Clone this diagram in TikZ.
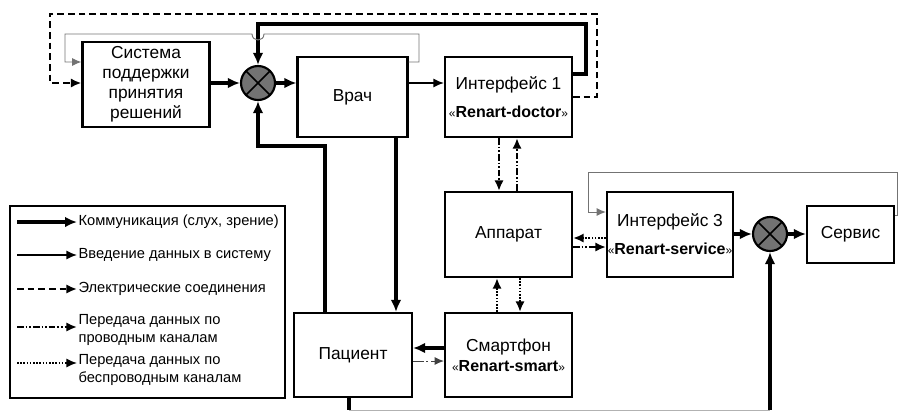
\documentclass[tikz,border=0pt]{standalone}
\usepackage{fontspec}
\setmainfont{Liberation Sans}
\usetikzlibrary{arrows.meta}
\newcommand{\renart}[1]{{\fontsize{9}{10}\selectfont«}{\fontsize{12}{14}\selectfont\bfseries #1}{\fontsize{9}{10}\selectfont»}}

\tikzset{
  blk/.style={draw, line width=1.6pt, align=center, inner sep=0pt, font=\fontsize{13}{15}\selectfont},
  summ/.style={circle, draw, line width=1.6pt, fill=black!55, minimum size=25.5pt, inner sep=0pt,
    path picture={\draw[line width=1.3pt] (path picture bounding box.north west) -- (path picture bounding box.south east)
      (path picture bounding box.south west) -- (path picture bounding box.north east);}},
  comm/.style={line width=2.6pt, -{Latex[length=9pt,width=8pt]}},
  datain/.style={line width=1.3pt, -{Latex[length=8pt,width=7pt]}},
  elec/.style={line width=1.6pt, dash pattern=on 5pt off 3pt, -{Latex[length=8pt,width=7pt]}},
  wired/.style={line width=2pt, dash pattern=on 5pt off 1.5pt on 1.2pt off 1.5pt on 1.2pt off 1.5pt, -{Latex[length=8pt,width=7pt]}},
  wless/.style={line width=2pt, dash pattern=on 1.2pt off 1.2pt, -{Latex[length=8pt,width=7pt]}},
  fbline/.style={line width=0.7pt, black!55, -{Latex[length=7pt,width=6pt]}},
  fbdash/.style={fbline, black!75, dash pattern=on 8pt off 2pt on 1.5pt off 2pt},
  lgtext/.style={anchor=west, inner sep=1pt, align=left, font=\fontsize{11}{13.5}\selectfont},
}

\begin{document}
\begin{tikzpicture}[x=0.75pt, y=-0.75pt]
  \useasboundingbox (0,0) rectangle (898,412);

  % Blocks
  \node[blk, minimum width=95.25pt, minimum height=63.75pt] (sppr) at (146,84.5) {Система\\поддержки\\принятия\\решений};
  \node[summ] (sum1) at (258,83) {};
  \node[blk, minimum width=82.5pt, minimum height=60pt] (vrach) at (352.5,97) {Врач};
  \node[blk, minimum width=95.25pt, minimum height=60pt] (int1) at (508.5,97) {Интерфейс 1\\[6pt]\renart{Renart-doctor}};
  \node[blk, minimum width=95.25pt, minimum height=63.75pt] (app) at (508.5,234.5) {Аппарат};
  \node[blk, minimum width=95.25pt, minimum height=63pt] (smart) at (508.5,355) {Смартфон\\\renart{Renart-smart}};
  \node[blk, minimum width=88.5pt, minimum height=63pt] (pac) at (353,355) {Пациент};
  \node[blk, minimum width=94.5pt, minimum height=63.75pt] (int3) at (670,234.5) {Интерфейс 3\\[6pt]\renart{Renart-service}};
  \node[summ] (sum2) at (770,234) {};
  \node[blk, minimum width=65.25pt, minimum height=42.75pt] (serv) at (850.5,234.5) {Сервис};

  % Main loop
  \draw[comm] (sppr.east |- sum1) -- (sum1.west);
  \draw[comm] (sum1.east) -- (vrach.west |- sum1);
  \draw[datain] (vrach.east |- sum1) -- (int1.west |- sum1);
  \draw[comm] (int1.east |- 0,74) -| (586,24) -| (sum1.north);
  \draw[comm] (pac.north -| 325,0) -- (325,146) -| (sum1.south);
  \draw[comm] (vrach.south -| 396,0) -- (pac.north -| 396,0);
  \draw[elec] (int1.east) -| (597,14) -| (50,83) -- (sppr.west |- 0,83);
  \draw[fbline] (vrach.east |- 0,62) -- (419,62) -- (419,34) -- (264,34)
    .. controls (264,42) and (252,42) .. (252,34) -- (65,34) -- (65,62) -- (sppr.west |- 0,62);

  % Data channels
  \draw[wired] (int1.south -| 499,0) -- (app.north -| 499,0);
  \draw[wired] (app.north -| 517,0) -- (int1.south -| 517,0);
  \draw[wless] (smart.north -| 497,0) -- (app.south -| 497,0);
  \draw[wless] (app.south -| 520,0) -- (smart.north -| 520,0);
  \draw[comm] (smart.west |- 0,348) -- (pac.east |- 0,348);
  \draw[fbdash] (pac.east |- 0,361) -- (smart.west |- 0,361);
  \draw[wless] (int3.west |- 0,238) -- (app.east |- 0,238);
  \draw[wired] (app.east |- 0,247) -- (int3.west |- 0,247);

  % Service
  \draw[comm] (int3.east |- sum2) -- (sum2.west);
  \draw[comm] (sum2.east) -- (serv.west |- sum2);
  \coordinate (btm) at (349,410);
  \draw[line width=2.6pt] (pac.south -| btm) -- (btm);
  \draw[line width=0.7pt, black!30] (btm) -- (btm -| sum2);
  \draw[comm] (btm -| sum2) -- (sum2.south);
  \draw[fbline] (serv.east |- 0,215) -- (897,215) -- (897,172) -- (588,172) -- (588,212) -- (int3.west |- 0,212);

  % Legend
  \draw[line width=1.4pt] (10,206) rectangle (285,398);
  \node[lgtext] (lg1) at (77,222) {Коммуникация (слух, зрение)};
  \node[lgtext] (lg2) at (77,255) {Введение данных в систему};
  \node[lgtext] (lg3) at (77,289) {Электрические соединения};
  \node[lgtext] (lg4) at (77,330) {Передача данных по\\проводным каналам};
  \node[lgtext] (lg5) at (77,370) {Передача данных по\\беспроводным каналам};
  \draw[comm] (17,222) -- (lg1.west);
  \draw[datain] (17,255) -- (lg2.west);
  \draw[elec] (17,289) -- (lg3.west);
  \draw[wired] (17,327) -- (lg4.west |- 0,327);
  \draw[wless, line width=1.3pt] (17,363) -- (lg5.west |- 0,363);
\end{tikzpicture}
\end{document}
